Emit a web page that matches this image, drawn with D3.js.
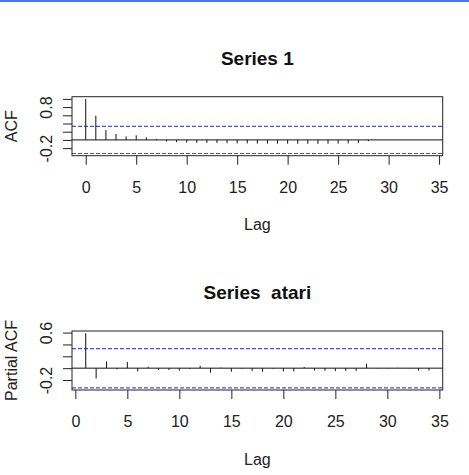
<!DOCTYPE html>
<html>
<head>
<meta charset="utf-8">
<script src="https://cdn.jsdelivr.net/npm/d3@7"></script>
<style>
  body { margin: 0; background: #fff; }
  svg { display: block; font-family: Arial, "Liberation Sans", sans-serif; }
</style>
</head>
<body>
<div id="chart"></div>
<script>
// ACF of series 1 (lags 0..28)
const acfLags = d3.range(0, 29);
const acfValues = [1.0, 0.59, 0.24, 0.145, 0.085, 0.113, 0.065, 0.025, -0.04, -0.055,
    -0.065, -0.07, -0.072, -0.075, -0.08, -0.085, -0.085, -0.09, -0.09, -0.092,
    -0.092, -0.095, -0.095, -0.095, -0.092, -0.09, -0.085, -0.08, -0.03];

// PACF of atari (lags 1..34)
const pacfLags = d3.range(1, 35);
const pacfValues = [0.59, -0.175, 0.115, -0.02, 0.105, -0.055, 0.025, -0.03, -0.03, -0.04,
    -0.015, 0.04, -0.075, 0.01, -0.06, -0.01, -0.045, -0.06, -0.01, -0.055,
    -0.055, 0.02, -0.04, -0.045, -0.05, -0.045, -0.045, 0.075, -0.005, -0.005,
    0.005, -0.005, -0.04, -0.04];

const xTicks = [0, 5, 10, 15, 20, 25, 30, 35];
const acfYTicks = [-0.2, 0, 0.2, 0.4, 0.6, 0.8, 1.0];
const acfYLabels = ["-0.2", "0.8"];
const pacfYTicks = [-0.2, 0, 0.2, 0.4, 0.6];
const pacfYLabels = ["-0.2", "0.6"];
const titles = ["Series 1", "Series  atari"];
const yTitles = ["ACF", "Partial ACF"];
const xTitle = "Lag";
const nObs = 35;

const width = 469, height = 475;
const boxLeft = 72, boxRight = 442.7, boxHeight = 59;
const clim = 1.96 / Math.sqrt(nObs);

const svg = d3.select("#chart")
    .append("svg")
    .attr("width", width)
    .attr("height", height)
    .attr("viewBox", `0 0 ${width} ${height}`);

// thin blue bar along the top edge
svg.append("rect")
    .attr("x", 0).attr("y", 0)
    .attr("width", width).attr("height", 2)
    .attr("fill", "#4a74e6");

// R-style 4% axis expansion
function expand(lo, hi) {
    const r = hi - lo;
    return [lo - 0.04 * r, hi + 0.04 * r];
}

function drawPanel(boxTop, lags, values, xlim, yTicks, yLabels, title, yTitle) {
    const g = svg.append("g");
    const boxBottom = boxTop + boxHeight;

    const x = d3.scaleLinear()
        .domain(expand(xlim[0], xlim[1]))
        .range([boxLeft, boxRight]);
    const ylo = Math.min(-clim, d3.min(values));
    const yhi = Math.max(clim, d3.max(values));
    const y = d3.scaleLinear()
        .domain(expand(ylo, yhi))
        .range([boxBottom, boxTop]);

    // x axis
    const xAxis = g.append("g")
        .attr("transform", `translate(0,${boxBottom})`)
        .call(d3.axisBottom(x).tickValues(xTicks).tickSize(9).tickPadding(17));
    xAxis.select(".domain").remove();
    xAxis.selectAll("line").attr("stroke", "#222");
    xAxis.selectAll("text")
        .attr("font-size", "16px")
        .attr("font-family", "Arial, 'Liberation Sans', sans-serif")
        .attr("fill", "#222");

    // y axis, labels rotated like R (las = 0)
    const yAxis = g.append("g")
        .attr("transform", `translate(${boxLeft},0)`)
        .call(d3.axisLeft(y).tickValues(yTicks).tickSize(9)
            .tickFormat(d => {
                const s = d3.format(".1f")(d).replace("−", "-");
                return yLabels.includes(s) ? s : "";
            }));
    yAxis.select(".domain").remove();
    yAxis.selectAll("line").attr("stroke", "#222");
    yAxis.selectAll("text")
        .attr("x", null)
        .attr("transform", "translate(-25.5,0) rotate(-90)")
        .attr("text-anchor", "middle")
        .attr("dy", "0.35em")
        .attr("font-size", "16px")
        .attr("font-family", "Arial, 'Liberation Sans', sans-serif")
        .attr("fill", "#222");

    // confidence limits
    g.selectAll(".clim")
        .data([clim, -clim])
        .join("line")
        .attr("class", "clim")
        .attr("x1", boxLeft).attr("x2", boxRight)
        .attr("y1", d => y(d)).attr("y2", d => y(d))
        .attr("stroke", "#4b4bef")
        .attr("stroke-width", 1.2)
        .attr("stroke-dasharray", "4,2");

    // zero line
    g.append("line")
        .attr("x1", boxLeft).attr("x2", boxRight)
        .attr("y1", y(0)).attr("y2", y(0))
        .attr("stroke", "#111")
        .attr("stroke-width", 1);

    // spikes
    g.selectAll(".spike")
        .data(lags)
        .join("line")
        .attr("class", "spike")
        .attr("x1", d => x(d)).attr("x2", d => x(d))
        .attr("y1", y(0))
        .attr("y2", (d, i) => y(values[i]))
        .attr("stroke", "#111")
        .attr("stroke-width", 1);

    // box
    g.append("rect")
        .attr("x", boxLeft).attr("y", boxTop)
        .attr("width", boxRight - boxLeft).attr("height", boxHeight)
        .attr("fill", "none")
        .attr("stroke", "#222")
        .attr("stroke-width", 1);

    // titles
    g.append("text")
        .attr("x", (boxLeft + boxRight) / 2)
        .attr("y", boxTop - 32)
        .attr("text-anchor", "middle")
        .attr("font-size", "19px")
        .attr("font-weight", "bold")
        .attr("fill", "#111")
        .style("white-space", "pre")
        .text(title);

    g.append("text")
        .attr("x", (boxLeft + boxRight) / 2)
        .attr("y", boxBottom + 69)
        .attr("dy", "0.35em")
        .attr("text-anchor", "middle")
        .attr("font-size", "16px")
        .attr("fill", "#222")
        .text(xTitle);

    g.append("text")
        .attr("transform", `translate(${boxLeft - 61},${(boxTop + boxBottom) / 2}) rotate(-90)`)
        .attr("dy", "0.35em")
        .attr("text-anchor", "middle")
        .attr("font-size", "16px")
        .attr("fill", "#222")
        .text(yTitle);
}

drawPanel(96.7, acfLags, acfValues, [0, 34], acfYTicks, acfYLabels, titles[0], yTitles[0]);
drawPanel(331, pacfLags, pacfValues, [1, 34], pacfYTicks, pacfYLabels, titles[1], yTitles[1]);
</script>
</body>
</html>
